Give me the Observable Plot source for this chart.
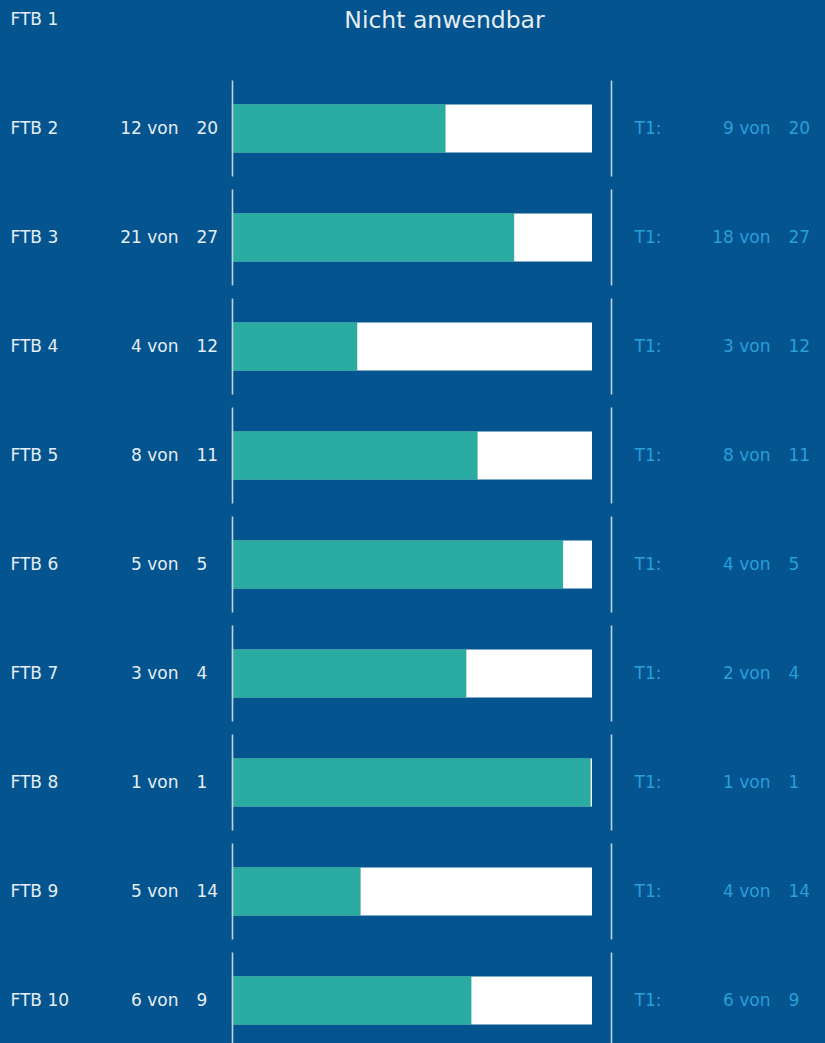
<!DOCTYPE html>
<html>
<head>
<meta charset="utf-8">
<script src="https://cdn.jsdelivr.net/npm/d3@7"></script>
<script src="https://cdn.jsdelivr.net/npm/@observablehq/plot@0.6"></script>
<style>
  html, body { margin: 0; padding: 0; background: #03548F; }
  #chart { width: 825px; height: 1043px; overflow: hidden; }
</style>
</head>
<body>
<div id="chart"></div>
<script>
const rows = ["FTB 1","FTB 2","FTB 3","FTB 4","FTB 5","FTB 6","FTB 7","FTB 8","FTB 9","FTB 10"];
const achieved = [null, 12, 21, 4, 8, 5, 3, 1, 5, 6];
const totals = [null, 20, 27, 12, 11, 5, 4, 1, 14, 9];
const barShare = [null, 0.592, 0.783, 0.347, 0.681, 0.919, 0.65, 0.995, 0.356, 0.664];
const t1Achieved = [null, 9, 18, 3, 8, 4, 2, 1, 4, 6];
const t1Totals = [null, 20, 27, 12, 11, 5, 4, 1, 14, 9];
const t1Label = "T1:";
const vonWord = "von";
const notApplicableText = "Nicht anwendbar";

const table = rows.map((row, i) => ({
  row, achieved: achieved[i], total: totals[i], share: barShare[i],
  t1a: t1Achieved[i], t1t: t1Totals[i]
}));
const withData = table.filter(d => d.total != null);
const noData = table.filter(d => d.total == null);

const BG = "#03548F";
const TEAL = "#2AACA2";
const LABEL = "#E6EDF4";
const T1C = "#2A9FD8";
const RULE = "#C5CFDA";
const FONT = "DejaVu Sans, Verdana, sans-serif";
const fs = 17;

const chart = Plot.plot({
  width: 825,
  height: 1043,
  margin: 0,
  style: { background: BG, fontFamily: FONT, overflow: "visible" },
  x: { domain: [0, 1], range: [232, 592], axis: null },
  y: { type: "band", domain: rows, range: [-35.5, 1054.5], padding: 0, axis: null },
  marks: [
    Plot.barX(withData, { x1: 0, x2: 1, y: "row", fill: "white", insetTop: 30.5, insetBottom: 30.5 }),
    Plot.barX(withData, { x1: 0, x2: "share", y: "row", fill: TEAL, stroke: "#24999a", strokeWidth: 0.6, insetTop: 30.5, insetBottom: 30.5 }),
    Plot.tickX(withData, { x: 0, y: "row", stroke: RULE, strokeWidth: 1.6, insetTop: 6.5, insetBottom: 6.5 }),
    Plot.tickX(withData, { x: 1, y: "row", dx: 19, stroke: RULE, strokeWidth: 1.6, insetTop: 6.5, insetBottom: 6.5 }),
    // row labels
    Plot.text(table, { y: "row", text: "row", frameAnchor: "left", dx: 10, textAnchor: "start", fill: LABEL, fontSize: fs }),
    // not applicable
    Plot.text(noData, { y: "row", text: () => notApplicableText, frameAnchor: "left", dx: 444, textAnchor: "middle", fill: LABEL, fontSize: 23.5 }),
    // "x von"
    Plot.text(withData, { y: "row", text: d => `${d.achieved} ${vonWord}`, frameAnchor: "left", dx: 178, textAnchor: "end", fill: LABEL, fontSize: fs }),
    Plot.text(withData, { y: "row", text: d => `${d.total}`, frameAnchor: "left", dx: 196, textAnchor: "start", fill: LABEL, fontSize: fs }),
    // T1
    Plot.text(withData, { y: "row", text: () => t1Label, frameAnchor: "left", dx: 634, textAnchor: "start", fill: T1C, fontSize: fs }),
    Plot.text(withData, { y: "row", text: d => `${d.t1a} ${vonWord}`, frameAnchor: "left", dx: 770, textAnchor: "end", fill: T1C, fontSize: fs }),
    Plot.text(withData, { y: "row", text: d => `${d.t1t}`, frameAnchor: "left", dx: 788, textAnchor: "start", fill: T1C, fontSize: fs })
  ]
});
document.getElementById("chart").appendChild(chart);
</script>
</body>
</html>
